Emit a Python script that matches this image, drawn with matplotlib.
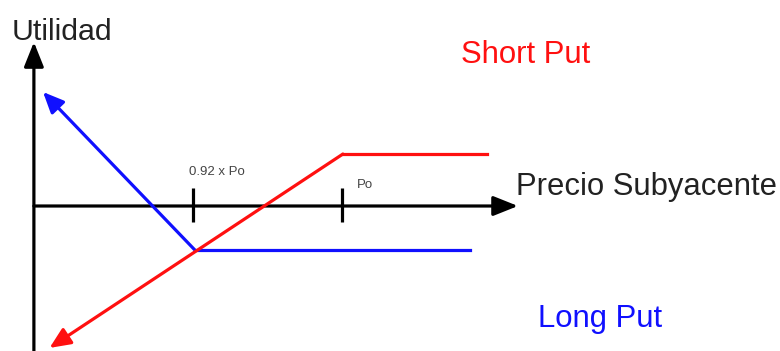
import numpy as np
import matplotlib
matplotlib.use("Agg")
import matplotlib.pyplot as plt

# schematic payoff diagram, price in units of Po = 100
po = 100.0
strike_long = 92.0

long_put_price = [83.95, 92.1, 106.9]
long_put_profit = [6.12, -2.36, -2.36]

short_put_price = [84.3, 100.05, 107.8]
short_put_profit = [-7.62, 2.79, 2.79]

tick_prices = [strike_long, po]
tick_labels = ["0.92 x Po", "Po"]

x_axis_range = [83.46, 109.45]
y_axis_range = [-8.2, 8.8]

plt.rcParams['font.family'] = ['Liberation Sans', 'DejaVu Sans']

fig = plt.figure(figsize=(7.8, 3.51), dpi=100)
ax = fig.add_axes([0, 0, 1, 1])
ax.set_xlim(81.64, 123.52)
ax.set_ylim(-7.785, 11.06)
ax.axis('off')

# axes with arrows
arrow_kw = dict(arrowstyle='-|>,head_length=0.5,head_width=0.2', color='black',
                lw=2.3, mutation_scale=30, shrinkA=0, shrinkB=0)
ax.annotate('', xy=(x_axis_range[1], 0), xytext=(x_axis_range[0], 0),
            arrowprops=arrow_kw)
ax.annotate('', xy=(x_axis_range[0], y_axis_range[1]),
            xytext=(x_axis_range[0], y_axis_range[0]), arrowprops=arrow_kw)

# tick marks
for p in tick_prices:
    ax.plot([p, p], [-0.88, 0.95], color='black', lw=2.3, solid_capstyle='butt')

line_head = '-|>,head_length=0.45,head_width=0.2'

# long put
blue = '#1010ff'
ax.plot(long_put_price[1:], long_put_profit[1:], color=blue, lw=2.3)
ax.annotate('', xy=(long_put_price[0], long_put_profit[0]),
            xytext=(long_put_price[1], long_put_profit[1]),
            arrowprops=dict(arrowstyle=line_head, color=blue, lw=2.3,
                            mutation_scale=28, shrinkA=0, shrinkB=0))

# short put
red = '#ff1010'
ax.plot(short_put_price[1:], short_put_profit[1:], color=red, lw=2.3)
ax.annotate('', xy=(short_put_price[0], short_put_profit[0]),
            xytext=(short_put_price[1], short_put_profit[1]),
            arrowprops=dict(arrowstyle=line_head, color=red, lw=2.3,
                            mutation_scale=28, shrinkA=0, shrinkB=0))

# labels
ax.text(82.28, 8.91, "Utilidad", fontsize=21.8, color='#222222', va='baseline')
ax.text(109.34, 0.59, "Precio Subyacente", fontsize=22.3, color='#222222', va='baseline')
ax.text(106.39, 7.68, "Short Put", fontsize=22.4, color=red, va='baseline')
ax.text(110.5, -6.5, "Long Put", fontsize=22.4, color=blue, va='baseline')
ax.text(91.77, 1.66, tick_labels[0], fontsize=9.5, color='#444444', va='baseline')
ax.text(100.8, 0.97, tick_labels[1], fontsize=9.5, color='#444444', va='baseline')

fig.savefig('out.png', dpi=100)
